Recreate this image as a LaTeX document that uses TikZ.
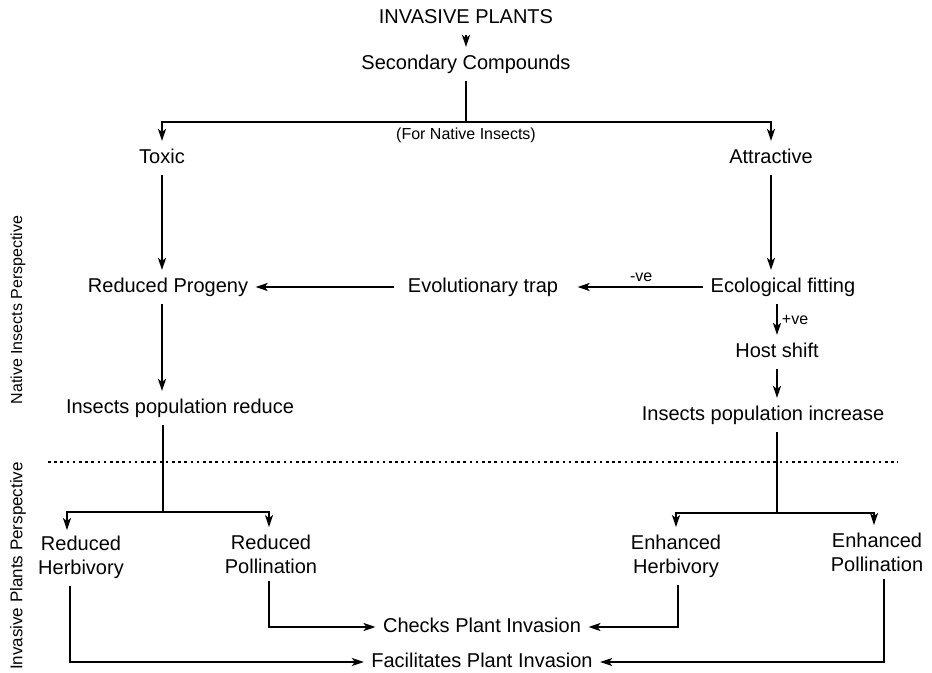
\documentclass[tikz,border=0pt]{standalone}
\usepackage{fontspec}
\setmainfont{Liberation Sans}
\usepackage{xcolor}
\usetikzlibrary{calc,arrows.meta}

\begin{document}
\begin{tikzpicture}[x=0.5pt, y=-0.5pt,
		line width=0.9pt,
		box/.style={font=\fontsize{10}{12}\selectfont, text height=7.5pt, text depth=2pt},
		twobox/.style={font=\fontsize{10}{12}\selectfont, align=center},
		note/.style={font=\fontsize{8}{9.6}\selectfont, inner sep=2pt},
		side/.style={font=\fontsize{8}{9.6}\selectfont, rotate=90},
		arr/.style={-{Stealth[length=6pt, width=4pt, inset=1.5pt]}}]
		\useasboundingbox (0,0) rectangle (932,673);
		%Top
		\node[box] (inv) at (466,18) {INVASIVE PLANTS};
		\node[box] (sec) at (466,64) {Secondary Compounds};
		\coordinate (split) at (466,122);
		\node[note] (fni) at (466,135) {(For Native Insects)};
		\node[box] (toxic) at (162,158) {Toxic};
		\node[box] (attr) at (771,158) {Attractive};
		%Native insects part
		\node[box] (rprog) at (168,287) {Reduced Progeny};
		\node[box] (etrap) at (483,287) {Evolutionary trap};
		\node[box] (efit) at (783,287) {Ecological fitting};
		\node[box] (hshift) at (777,352) {Host shift};
		\node[box] (ipr) at (180,408) {Insects population reduce};
		\node[box] (ipi) at (763,415) {Insects population increase};
		\coordinate (lsplit) at (163,512);
		\coordinate (rsplit) at (777,513);
		%Invasive plants part
		\node[twobox] (rherb) at (81,557) {Reduced\\Herbivory};
		\node[twobox] (rpoll) at (271,554) {Reduced\\Pollination};
		\node[twobox] (eherb) at (676,556) {Enhanced\\Herbivory};
		\node[twobox] (epoll) at (877,552) {Enhanced\\Pollination};
		\node[box] (checks) at (482,627) {Checks Plant Invasion};
		\node[box] (facil) at (482,662) {Facilitates Plant Invasion};
		%Side labels
		\node[side] (nip) at (18,310) {Native Insects Perspective};
		\node[side, font=\fontsize{8.5}{10}\selectfont] (ipp) at (18,566) {Invasive Plants Perspective};
		%Divider
		\draw[line width=1.3pt, dash pattern=on 1.3pt off 1.8pt] (48,462) -- (898,462);
		%Arrows
		\draw[arr] (inv) -- (sec);
		\draw (sec) -- (split);
		\draw[arr] (split) -| (toxic);
		\draw[arr] (split) -| (attr);
		\draw[arr] (toxic.south) -- (toxic.south |- rprog.north);
		\draw[arr] (attr.south) -- (attr.south |- efit.north);
		\draw[arr, shorten >=6pt] (efit) -- node[note, above, pos=0.45] {-ve} (etrap);
		\draw[arr, shorten <=3pt] (etrap) -- (rprog);
		\draw[arr] (hshift |- efit.south) -- node[note, right] {+ve} (hshift);
		\draw[arr] (hshift) -- (hshift |- ipi.north);
		\draw[arr] (toxic.south |- rprog.south) -- (toxic.south |- ipr.north);
		%Branches
		\draw (lsplit |- ipr.south) -- (lsplit);
		\draw[arr] (lsplit) -| ([xshift=-7pt,yshift=-1pt]rherb.north);
		\draw[arr] (lsplit) -| ([xshift=-1pt]rpoll.north);
		\draw (rsplit |- ipi.south) -- (rsplit);
		\draw[arr] (rsplit) -| (eherb);
		\draw[arr] (rsplit) -| ([xshift=-1.5pt]epoll.north);
		%Bottom
		\draw[arr] ([xshift=-1pt]rpoll.south) |- (checks);
		\draw[arr] ([xshift=1pt]eherb.south) |- (checks);
		\draw[arr] ([xshift=-5.5pt]rherb.south) |- (facil);
		\draw[arr] ([xshift=3.5pt]epoll.south) |- (facil);
	\end{tikzpicture}
\end{document}
